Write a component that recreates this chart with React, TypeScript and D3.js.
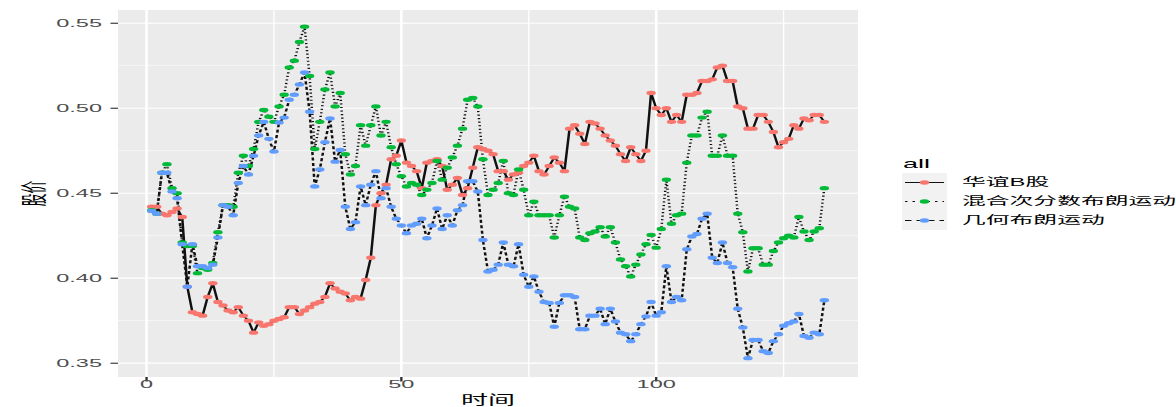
import React from "react";
import * as d3 from "d3";

const seriesNames = ["华谊B股", "混合次分数布朗运动", "几何布朗运动"];
const seriesColors = ["#F8766D", "#00BA38", "#619CFF"];
const seriesDash = ["none", "2.5 5", "6.5 5"];

const huayi = [
  0.442, 0.442, 0.438, 0.437, 0.439, 0.441, 0.436, 0.395, 0.380, 0.379,
  0.378, 0.389, 0.397, 0.386, 0.384, 0.381, 0.380, 0.383, 0.378, 0.375,
  0.368, 0.374, 0.372, 0.373, 0.375, 0.376, 0.377, 0.383, 0.383, 0.379,
  0.381, 0.383, 0.385, 0.386, 0.389, 0.397, 0.394, 0.392, 0.391, 0.387,
  0.389, 0.388, 0.399, 0.412, 0.443, 0.450, 0.455, 0.470, 0.472, 0.481,
  0.468, 0.466, 0.463, 0.453, 0.468, 0.469, 0.470, 0.466, 0.452, 0.455,
  0.459, 0.449, 0.453, 0.465, 0.477, 0.476, 0.475, 0.473, 0.463, 0.463,
  0.458, 0.461, 0.462, 0.466, 0.468, 0.472, 0.463, 0.461, 0.466, 0.471,
  0.468, 0.463, 0.488, 0.490, 0.485, 0.479, 0.492, 0.491, 0.488, 0.484,
  0.481, 0.478, 0.473, 0.469, 0.477, 0.473, 0.469, 0.475, 0.509, 0.500,
  0.496, 0.500, 0.492, 0.496, 0.492, 0.508, 0.508, 0.509, 0.516, 0.516,
  0.517, 0.524, 0.525, 0.516, 0.516, 0.501, 0.500, 0.488, 0.488, 0.496,
  0.496, 0.492, 0.486, 0.477, 0.480, 0.482, 0.490, 0.488, 0.494, 0.493,
  0.496, 0.496, 0.492,
];

const mixedFbm = [
  0.440, 0.438, 0.462, 0.467, 0.453, 0.450, 0.421, 0.419, 0.419, 0.403,
  0.406, 0.405, 0.409, 0.427, 0.443, 0.443, 0.442, 0.462, 0.472, 0.466,
  0.476, 0.492, 0.499, 0.495, 0.492, 0.501, 0.508, 0.524, 0.528, 0.539,
  0.548, 0.519, 0.476, 0.492, 0.511, 0.521, 0.501, 0.509, 0.473, 0.461,
  0.466, 0.490, 0.478, 0.490, 0.501, 0.484, 0.492, 0.477, 0.467, 0.460,
  0.454, 0.456, 0.455, 0.449, 0.452, 0.456, 0.469, 0.458, 0.465, 0.471,
  0.478, 0.488, 0.505, 0.506, 0.501, 0.470, 0.449, 0.452, 0.456, 0.469,
  0.450, 0.449, 0.464, 0.452, 0.437, 0.445, 0.437, 0.437, 0.437, 0.424,
  0.437, 0.448, 0.442, 0.441, 0.424, 0.4225, 0.4265, 0.4275, 0.430, 0.4245,
  0.430, 0.421, 0.411, 0.407, 0.401, 0.408, 0.414, 0.420, 0.4255, 0.418,
  0.429, 0.458, 0.432, 0.437, 0.438, 0.468, 0.484, 0.484, 0.4945, 0.498,
  0.472, 0.472, 0.484, 0.472, 0.472, 0.438, 0.427, 0.404, 0.4176, 0.4176,
  0.408, 0.408, 0.416, 0.421, 0.4235, 0.425, 0.424, 0.436, 0.4275, 0.4225,
  0.4275, 0.4294, 0.453,
];

const geoBm = [
  0.4396, 0.438, 0.462, 0.462, 0.451, 0.447, 0.420, 0.395, 0.420, 0.407,
  0.407, 0.406, 0.408, 0.424, 0.443, 0.442, 0.437, 0.456, 0.466, 0.461,
  0.472, 0.484, 0.492, 0.482, 0.4745, 0.4916, 0.4945, 0.505, 0.508, 0.514,
  0.521, 0.498, 0.454, 0.464, 0.480, 0.494, 0.4686, 0.4755, 0.442, 0.429,
  0.433, 0.454, 0.443, 0.455, 0.463, 0.447, 0.453, 0.442, 0.435, 0.431,
  0.4265, 0.431, 0.432, 0.435, 0.4235, 0.431, 0.441, 0.429, 0.437, 0.431,
  0.440, 0.443, 0.457, 0.457, 0.451, 0.4225, 0.404, 0.405, 0.408, 0.421,
  0.408, 0.407, 0.420, 0.402, 0.395, 0.401, 0.392, 0.386, 0.3855, 0.3715,
  0.3855, 0.390, 0.390, 0.389, 0.370, 0.370, 0.378, 0.378, 0.382, 0.373,
  0.382, 0.3745, 0.368, 0.367, 0.363, 0.367, 0.373, 0.3775, 0.386, 0.378,
  0.380, 0.407, 0.386, 0.389, 0.387, 0.417, 0.4245, 0.426, 0.435, 0.438,
  0.412, 0.409, 0.421, 0.409, 0.4065, 0.382, 0.371, 0.353, 0.3637, 0.3637,
  0.357, 0.356, 0.363, 0.367, 0.372, 0.3735, 0.3745, 0.379, 0.366, 0.365,
  0.368, 0.367, 0.387,
];

const yTicks = [0.35, 0.4, 0.45, 0.5, 0.55];
const yMinor = [0.375, 0.425, 0.475, 0.525];
const xTicks = [0, 50, 100];
const xMinor = [25, 75, 125];

const W = 1176;
const H = 407;
const VH = 860; // virtual height (the picture is vertically squeezed)
const V = VH / H;

const FONT = "'Liberation Sans', Arial, 'Noto Sans CJK SC', sans-serif";

export default function App() {
  const allSeries = [huayi, mixedFbm, geoBm];
  const n = huayi.length;
  const pL = 118, pR = 858, pT = 10 * V, pB = 377 * V;
  const span = n - 1;
  const x = d3.scaleLinear().domain([1 - 0.05 * span, n + 0.05 * span]).range([pL, pR]);
  const y = d3.scaleLinear().domain([0.3419, 0.5578]).range([pB, pT]);
  const line = d3
    .line<number>()
    .x((_, i) => x(i + 1))
    .y((d) => y(d));

  const lw = 2.5;
  const pr = 4.7;
  const legendTop = 173;
  const keyH = 19;

  return (
    <svg
      width={W}
      height={H}
      viewBox={`0 0 ${W} ${VH}`}
      preserveAspectRatio="none"
      style={{ position: "absolute", left: 0, top: 0, background: "#fff" }}
      fontFamily={FONT}
    >
      <rect x={0} y={0} width={W} height={VH} fill="#fff" />
      <rect x={pL} y={pT} width={pR - pL} height={pB - pT} fill="#EBEBEB" />
      {yMinor.map((v) => (
        <line key={"ym" + v} x1={pL} x2={pR} y1={y(v)} y2={y(v)} stroke="#fff" strokeWidth={1.3} />
      ))}
      {xMinor.map((v) => (
        <line key={"xm" + v} x1={x(v)} x2={x(v)} y1={pT} y2={pB} stroke="#fff" strokeWidth={1.3} />
      ))}
      {yTicks.map((v) => (
        <line key={"yg" + v} x1={pL} x2={pR} y1={y(v)} y2={y(v)} stroke="#fff" strokeWidth={2.6} />
      ))}
      {xTicks.map((v) => (
        <line key={"xg" + v} x1={x(v)} x2={x(v)} y1={pT} y2={pB} stroke="#fff" strokeWidth={2.6} />
      ))}

      {allSeries.map((s, k) => (
        <path
          key={"l" + k}
          d={line(s) || ""}
          fill="none"
          stroke="#111"
          strokeWidth={lw}
          strokeDasharray={seriesDash[k]}
        />
      ))}
      {allSeries.map((s, k) => (
        <g key={"p" + k} fill={seriesColors[k]}>
          {s.map((v, i) => (
            <circle key={i} cx={x(i + 1)} cy={y(v)} r={pr} />
          ))}
        </g>
      ))}

      {/* axes ticks */}
      {yTicks.map((v) => (
        <g key={"yt" + v}>
          <line x1={110.5} x2={pL} y1={y(v)} y2={y(v)} stroke="#333" strokeWidth={2.4} />
          <text
            x={102}
            y={y(v)}
            textAnchor="end"
            dominantBaseline="central"
            fontSize={23.5}
            fill="#4D4D4D"
          >
            {d3.format(".2f")(v)}
          </text>
        </g>
      ))}
      {xTicks.map((v) => (
        <g key={"xt" + v}>
          <line x1={x(v)} x2={x(v)} y1={pB} y2={pB + 4.5 * V} stroke="#333" strokeWidth={2.4} />
          <text
            x={x(v)}
            y={384.5 * V}
            textAnchor="middle"
            dominantBaseline="central"
            fontSize={23.5}
            fill="#4D4D4D"
          >
            {v}
          </text>
        </g>
      ))}

      <text
        x={(pL + pR) / 2}
        y={399.5 * V}
        textAnchor="middle"
        dominantBaseline="central"
        fontSize={27}
        fill="#000"
      >
        时间
      </text>
      <text
        transform={`translate(34.5, ${193.5 * V}) rotate(-90)`}
        textAnchor="middle"
        dominantBaseline="central"
        fontSize={27}
        fill="#000"
      >
        股价
      </text>

      {/* legend */}
      <text x={903} y={163 * V} dominantBaseline="central" fontSize={27} fill="#000">
        all
      </text>
      {seriesNames.map((name, k) => {
        const cy = (legendTop + keyH * k + keyH / 2) * V;
        return (
          <g key={"lg" + k}>
            <rect x={902} y={(legendTop + keyH * k) * V} width={45} height={keyH * V} fill="#F2F2F2" />
            <line
              x1={905}
              x2={944}
              y1={cy}
              y2={cy}
              stroke="#111"
              strokeWidth={lw}
              strokeDasharray={seriesDash[k]}
            />
            <circle cx={924.5} cy={cy} r={pr} fill={seriesColors[k]} />
            <text x={962} y={cy} dominantBaseline="central" fontSize={23.8} fill="#000">
              {name}
            </text>
          </g>
        );
      })}
    </svg>
  );
}
